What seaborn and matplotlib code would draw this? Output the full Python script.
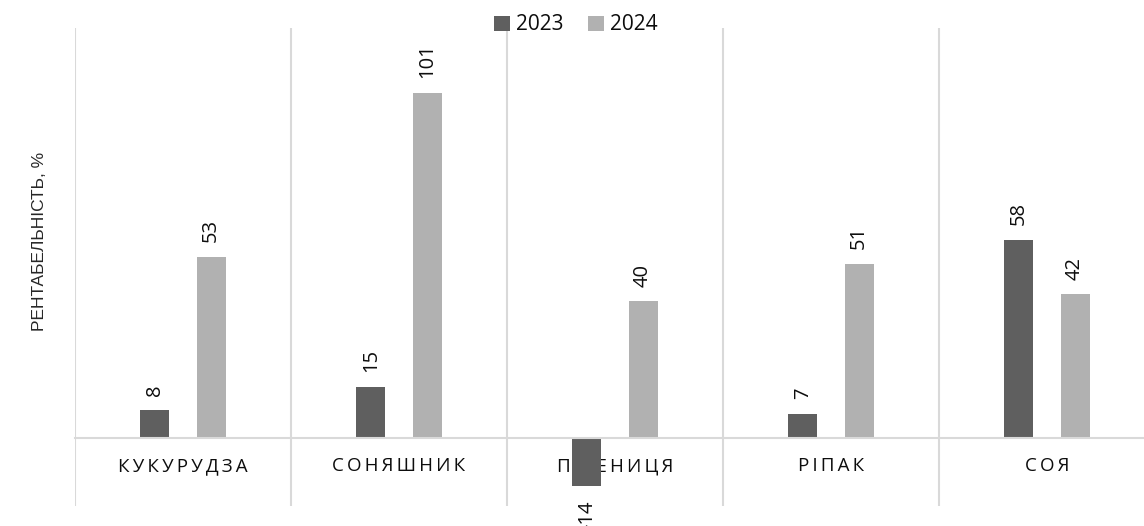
import matplotlib
matplotlib.use("Agg")
import matplotlib.pyplot as plt
import seaborn as sns
import pandas as pd
from matplotlib.patches import Patch

# Crop profitability by year
crops = ["КУКУРУДЗА", "СОНЯШНИК", "ПШЕНИЦЯ", "РІПАК", "СОЯ"]
years = ["2023", "2024"]
values_2023 = [8, 15, -14, 7, 58]
values_2024 = [53, 101, 40, 51, 42]
y_label = "РЕНТАБЕЛЬНІСТЬ, %"

colors = {"2023": "#5f5f5f", "2024": "#b1b1b1"}
grid_color = "#d9d9d9"
text_color = "#0d0d0d"

df = pd.DataFrame({
    "crop": crops * 2,
    "year": [years[0]] * len(crops) + [years[1]] * len(crops),
    "value": values_2023 + values_2024,
})

sns.set_theme(style="white")
plt.rcParams["font.family"] = ["Open Sans", "DejaVu Sans"]

fig = plt.figure(figsize=(11.44, 5.26), dpi=100)
W, H = 1144, 526
ax = fig.add_axes([75 / W, (H - 506) / H, 1080 / W, 478 / H])

sns.barplot(data=df, x="crop", y="value", hue="year", order=crops,
            hue_order=years, palette=colors, width=0.52, gap=0.485,
            dodge=True, errorbar=None, legend=False, ax=ax,
            edgecolor="none", linewidth=0, zorder=3)

ax.set_xlim(-0.5, len(crops) - 0.5)
ax.set_ylim(-20, 120)

# category separators
ax.set_xticks([i - 0.5 for i in range(len(crops) + 1)], minor=True)
ax.grid(True, which="minor", axis="x", color=grid_color, linewidth=1.5, zorder=0)
ax.grid(False, which="major")
ax.tick_params(axis="x", which="minor", length=0)

# zero line as category axis
for s in ["top", "right", "left"]:
    ax.spines[s].set_visible(False)
ax.spines["bottom"].set_position(("data", 0))
ax.spines["bottom"].set_color(grid_color)
ax.spines["bottom"].set_linewidth(1.5)
ax.spines["bottom"].set_zorder(4)

ax.set_yticks([])
ax.set_ylabel("")
ax.set_xlabel("")
ax.set_xticks(range(len(crops)))
ax.set_xticklabels(["\u2009".join(c) for c in crops], fontsize=13.5,
                   color=text_color)
ax.tick_params(axis="x", which="major", length=0, pad=14)

# value labels
for container in ax.containers:
    for bar in container:
        h = bar.get_height()
        x = bar.get_x() + bar.get_width() / 2
        off = 10.5 if h >= 0 else -10.5
        ax.annotate(f"{h:.0f}", xy=(x, h), xytext=(0, off),
                    textcoords="offset points", rotation=90,
                    ha="center", va="bottom" if h >= 0 else "top",
                    fontsize=14.5, color=text_color, annotation_clip=False)

fig.text(40 / W, 1 - 241 / H, y_label, rotation=90, ha="center", va="center",
         fontsize=12.5, color="#262626", family=["Liberation Sans", "DejaVu Sans"])

handles = [Patch(facecolor=colors[y], edgecolor="none", label=y) for y in years]
fig.legend(handles=handles, loc="center", bbox_to_anchor=(576 / W, 1 - 25 / H),
           ncol=2, frameon=False, fontsize=15, handlelength=0.75,
           handleheight=0.75, handletextpad=0.3, columnspacing=1.2,
           labelcolor=text_color)

fig.savefig("out.png", dpi=100, facecolor="white")
